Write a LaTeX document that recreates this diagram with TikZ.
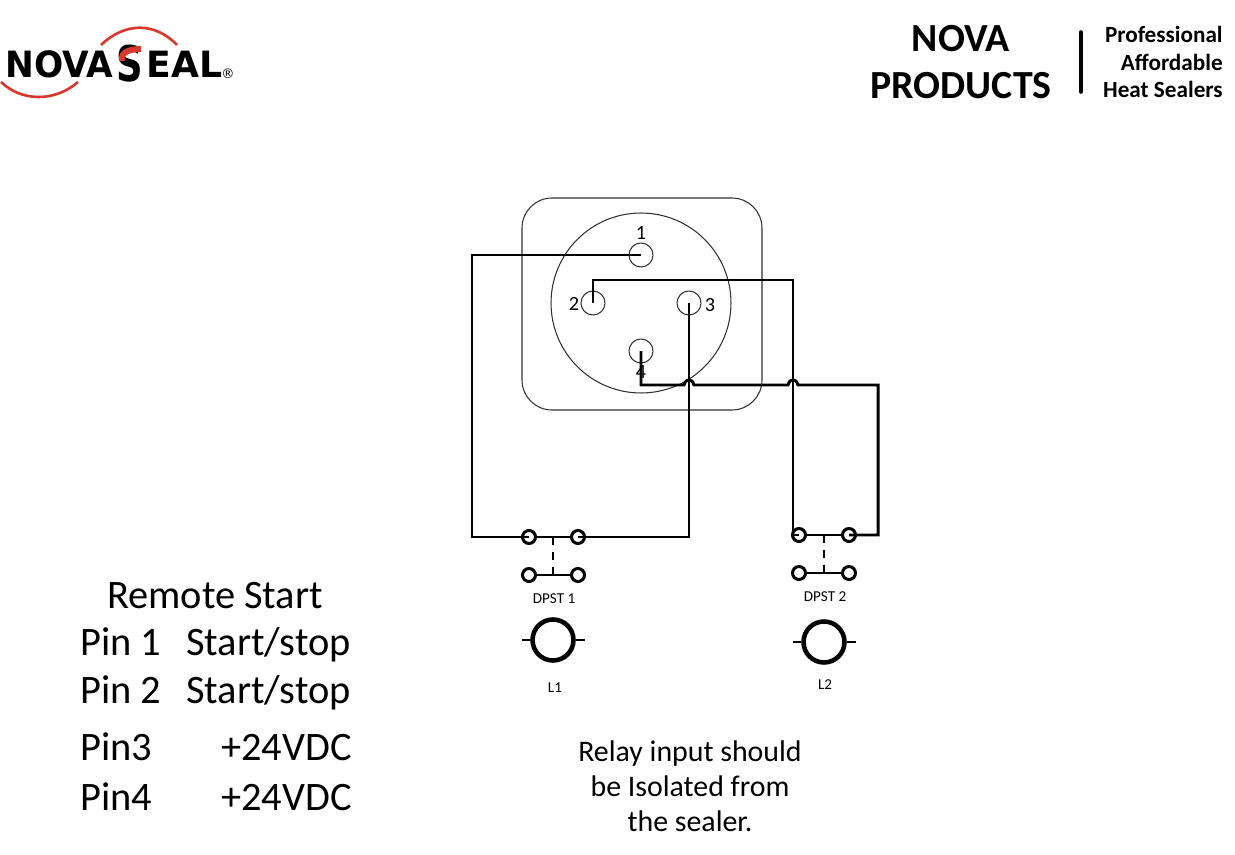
\documentclass[tikz,border=0pt]{standalone}
\usepackage{fontspec}
\usepackage{graphicx}
\setmainfont{Carlito}
\newfontfamily\logofont{DejaVu Sans}
\definecolor{logored}{HTML}{D8392F}
\definecolor{thinline}{HTML}{303030}
\tikzset{
	wire/.style={line width=1.7pt,line join=miter},
	housing/.style={line width=0.6pt,draw=thinline},
	pin/.style={circle,draw=thinline,line width=0.6pt,minimum size=0.48cm,inner sep=0},
	contact/.style={circle,draw,line width=1.7pt,minimum size=0.26cm,inner sep=0},
	lamp/.style={circle,draw,line width=2.6pt,minimum size=0.82cm,inner sep=0},
	digit/.style={font=\fontsize{11.5}{12}\selectfont,inner sep=0},
	small/.style={font=\fontsize{8.6}{9}\selectfont,inner sep=0},
	pintext/.style={font=\fontsize{23}{24}\selectfont,inner sep=0}
}
\begin{document}
\begin{tikzpicture}[x=0.02cm,y=-0.02cm]
	\useasboundingbox (0,0) rectangle (1235,855);
	% logo
	\node[inner sep=0,anchor=base west,font=\logofont\bfseries\fontsize{20.6}{22}\selectfont] (nova) at (5,78) {\scalebox{.95}[1]{NOVA}};
	\node[inner sep=0,anchor=base,font=\logofont\bfseries\fontsize{28}{30}\selectfont] (ess) at (130,82) {\scalebox{.75}[1]{S}};
	\node[inner sep=0,anchor=base west,font=\logofont\bfseries\fontsize{20.6}{22}\selectfont] (eal) at (146,78) {EAL};
	\node[inner sep=0,font=\logofont\fontsize{7.5}{9}\selectfont] (reg) at (228,74) {®};
	\draw[logored,line width=1.5pt] (101,45) .. controls (125,22) and (155,22) .. (177,45);
	\draw[logored,line width=1.5pt] (1,82) .. controls (22,102) and (55,102) .. (78,82);
	\draw[logored,line width=3.4pt] (122,61) .. controls (120,51) and (132,49) .. (141,49);
	% header
	\node[inner sep=0,align=center,anchor=base,font=\bfseries\fontsize{22.7}{27}\selectfont] (brand) at (961,99) {NOVA\\PRODUCTS};
	\draw[line width=2pt,line cap=round] (1081,32) -- (1081,92);
	\node[inner sep=0,align=right,anchor=base east,font=\bfseries\fontsize{13.2}{15.9}\selectfont] (tag) at (1223,98) {Professional\\Affordable\\Heat Sealers};
	% connector
	\draw[housing,rounded corners=0.6cm] (522,198) rectangle (762,410);
	\node[circle,draw=thinline,line width=0.6pt,minimum size=3.6cm,inner sep=0] (face) at (641,303) {};
	\node[pin] (p1) at (641,255) {};
	\node[pin] (p2) at (593,303) {};
	\node[pin] (p3) at (689,303) {};
	\node[pin] (p4) at (641,351) {};
	\node[digit] (n1) at (641,233) {1};
	\node[digit] (n2) at (574,304) {2};
	\node[digit] (n3) at (710,305) {3};
	\node[digit] (n4) at (641,372) {4};
	% switches
	\node[contact] (a1) at (529,537) {};
	\node[contact] (a2) at (578,537) {};
	\node[contact] (a3) at (529,575) {};
	\node[contact] (a4) at (578,575) {};
	\node[contact] (b1) at (799,535) {};
	\node[contact] (b2) at (849,535) {};
	\node[contact] (b3) at (799,573) {};
	\node[contact] (b4) at (849,573) {};
	\coordinate (am) at (553,537);
	\coordinate (an) at (553,575);
	\coordinate (bm) at (824,535);
	\coordinate (bn) at (824,573);
	\draw[wire] (a1) -- (a2);
	\draw[wire] (a3) -- (a4);
	\draw[wire] (b1) -- (b2);
	\draw[wire] (b3) -- (b4);
	\draw[wire,dash pattern=on 0.16cm off 0.14cm] (am) -- (an);
	\draw[wire,dash pattern=on 0.16cm off 0.14cm] (bm) -- (bn);
	\node[small] (d1) at (554,599) {DPST 1};
	\node[small] (d2) at (825,597) {DPST 2};
	% lamps
	\node[lamp] (l1) at (553,640) {};
	\node[lamp] (l2) at (824,642) {};
	\coordinate (l1a) at (522,640);
	\coordinate (l1b) at (585,640);
	\coordinate (l2a) at (793,642);
	\coordinate (l2b) at (856,642);
	\draw[line width=0.9pt] (l1a) -- (l1);
	\draw[line width=0.9pt] (l1) -- (l1b);
	\draw[line width=0.9pt] (l2a) -- (l2);
	\draw[line width=0.9pt] (l2) -- (l2b);
	\node[small] (t1) at (555,688) {L1};
	\node[small] (t2) at (825,685) {L2};
	% wires
	\coordinate (w1a) at (472,255);
	\coordinate (w1b) at (472,537);
	\coordinate (w3a) at (689,537);
	\coordinate (w2a) at (593,280);
	\coordinate (w2b) at (793,280);
	\coordinate (w2c) at (793,535);
	\coordinate (w4a) at (641,385);
	\coordinate (j3a) at (684,385);
	\coordinate (j3b) at (694,385);
	\coordinate (j2a) at (788,385);
	\coordinate (j2b) at (798,385);
	\coordinate (w4b) at (878,385);
	\coordinate (w4c) at (878,535);
	\draw[wire] (p1.center) -- (w1a) -- (w1b) -- (a1.center);
	\draw[wire] (p3.center) -- (w3a) -- (a2.center);
	\draw[wire] (p2.center) -- (w2a) -- (w2b) -- (w2c) -- (b1.center);
	\draw[wire] (p4.center) -- (w4a) -- (j3a) .. controls (686,378) and (692,378) .. (j3b) -- (j2a) .. controls (790,378) and (796,378) .. (j2b) -- (w4b) -- (w4c) -- (b2.center);
	% legend
	\node[pintext,anchor=base] (legend) at (215,608) {Remote Start};
	\node[pintext,anchor=base west] (k1) at (80,655) {Pin 1};
	\node[pintext,anchor=base west] (v1) at (186,655) {Start/stop};
	\node[pintext,anchor=base west] (k2) at (80,703) {Pin 2};
	\node[pintext,anchor=base west] (v2) at (186,703) {Start/stop};
	\node[pintext,anchor=base west] (k3) at (80,760) {Pin3};
	\node[pintext,anchor=base east] (v3) at (352,760) {+24VDC};
	\node[pintext,anchor=base west] (k4) at (80,810) {Pin4};
	\node[pintext,anchor=base east] (v4) at (352,810) {+24VDC};
	% note
	\node[inner sep=0,align=center,anchor=base,font=\fontsize{17}{19.84}\selectfont] (note) at (690,831) {Relay input should\\be Isolated from\\the sealer.};
\end{tikzpicture}
\end{document}
